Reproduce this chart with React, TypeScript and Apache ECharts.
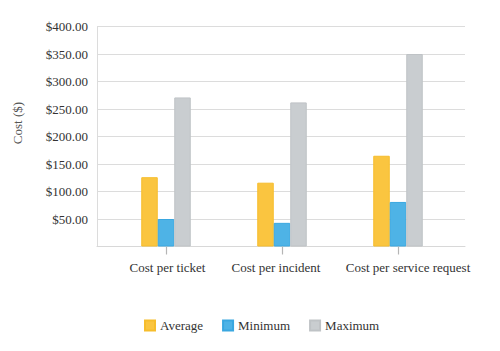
import React, { useEffect, useRef } from "react";
import * as echarts from "echarts";

const categories = ["Cost per ticket", "Cost per incident", "Cost per service request"];
const averageValues = [126, 116, 165];
const minimumValues = [50, 43, 81];
const maximumValues = [271, 262, 350];
const seriesNames = ["Average", "Minimum", "Maximum"];
const yAxisTitle = "Cost ($)";

const FONT = "Liberation Serif";
// horizontal nudge of each category label, as [left, right] padding
const labelPads = [[3, 0], [0, 12], [20, 0]];

export default function App() {
  const ref = useRef<HTMLDivElement>(null);
  useEffect(() => {
    if (!ref.current) return;
    const chart = echarts.init(ref.current, undefined, { renderer: "svg" });
    const mk = (name: string, data: number[], fill: string, border: string) => ({
      name,
      type: "bar",
      data,
      xAxisIndex: 1,
      yAxisIndex: 1,
      barWidth: 16.5,
      barGap: "0%",
      itemStyle: { color: fill, borderColor: border, borderWidth: 1 },
    });
    const titleGraphic = {
      id: "ytitle",
      type: "text",
      x: 17,
      y: 123,
      rotation: Math.PI / 2,
      style: {
        text: yAxisTitle,
        fill: "#555",
        fontSize: 13,
        fontFamily: FONT,
        textAlign: "center",
        textVerticalAlign: "middle",
      },
    };
    chart.setOption({
      animation: false,
      textStyle: { fontFamily: FONT },
      grid: [
        { left: 97, right: 35, top: 26.5, bottom: 104.5 },
        { left: 108, right: 44, top: 26.5, bottom: 104.5 },
      ],
      xAxis: [
        {
          type: "category",
          gridIndex: 0,
          data: categories,
          axisLine: { show: true, lineStyle: { color: "#d8d8d8", width: 1 } },
          axisTick: { show: false },
          axisLabel: { show: false },
        },
        {
          type: "category",
          gridIndex: 1,
          data: categories.map((c, i) => ({
            value: c,
            textStyle: { padding: [0, labelPads[i][1], 0, labelPads[i][0]] },
          })),
          axisLine: { show: false },
          axisTick: { show: false },
          axisLabel: { color: "#333", fontSize: 13, fontFamily: FONT, margin: 14, interval: 0 },
        },
      ],
      yAxis: [
        {
          type: "value",
          gridIndex: 0,
          min: 0,
          max: 400,
          interval: 50,
          axisLine: { show: true, lineStyle: { color: "#dcdcdc", width: 1 } },
          axisTick: { show: false },
          splitLine: { show: true, lineStyle: { color: "#dcdcdc", width: 1.2 } },
          axisLabel: {
            color: "#333",
            fontSize: 13,
            fontFamily: FONT,
            margin: 9,
            formatter: (v: number) => (v === 0 ? "" : "$" + v.toFixed(2)),
          },
        },
        {
          type: "value",
          gridIndex: 1,
          min: 0,
          max: 400,
          interval: 50,
          show: false,
        },
      ],
      legend: {
        data: seriesNames,
        left: 139,
        top: 314,
        itemWidth: 10,
        itemHeight: 10,
        itemGap: 19,
        icon: "rect",
        textStyle: { color: "#333", fontSize: 13, fontFamily: FONT },
      },
      graphic: [titleGraphic],
      series: [
        mk(seriesNames[0], averageValues, "#fac540", "#f6bd2c"),
        mk(seriesNames[1], minimumValues, "#4eb3e6", "#3aa7e0"),
        mk(seriesNames[2], maximumValues, "#c9cdd0", "#bfc3c6"),
      ],
    });

    // category ticks, placed through the axis scales
    const baseY = chart.convertToPixel({ yAxisIndex: 1 }, 0) as number;
    const ticks = categories.map((_c, i) => {
      const x = chart.convertToPixel({ xAxisIndex: 1 }, i) as number;
      const xs = Math.round(x) + 0.5;
      return {
        id: "tick" + i,
        type: "line",
        z: 10,
        shape: { x1: xs, y1: baseY, x2: xs, y2: baseY + 8 },
        style: { stroke: "#b5b5b5", lineWidth: 1.2 },
        silent: true,
      };
    });
    chart.setOption({ graphic: [titleGraphic, ...ticks] });

    return () => chart.dispose();
  }, []);
  return <div ref={ref} style={{ width: 500, height: 351, position: "absolute", left: 0, top: 0 }} />;
}
